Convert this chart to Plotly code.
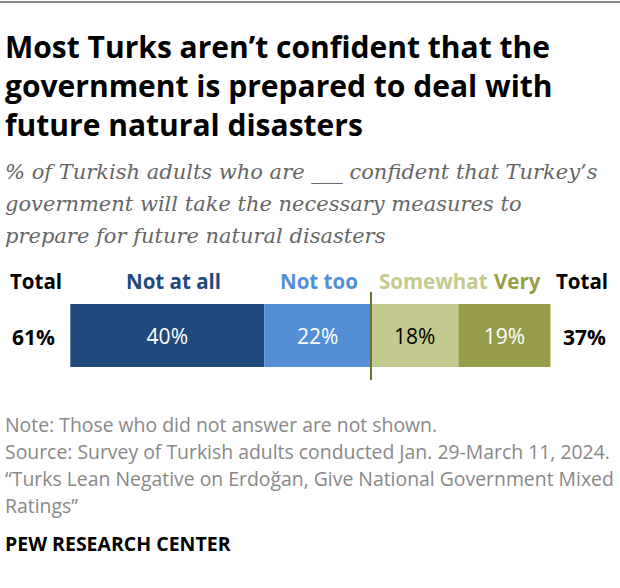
import plotly.graph_objects as go

categories = ["Not at all", "Not too", "Somewhat", "Very"]
values = [40, 22, 18, 19]
signs = [-1, -1, 1, 1]
colors = ["#214a7c", "#548fd6", "#c4ca8f", "#969c4a"]
text_colors = ["white", "white", "black", "white"]
totals = ["61%", "37%"]

W, H = 620, 588
PX_PER = 4.85
CENTER_PX = 371
xr = [-CENTER_PX / PX_PER, (W - CENTER_PX) / PX_PER]

SANS = "Open Sans, Roboto, sans-serif"
SERIF = "Georgia, DejaVu Serif, serif"

fig = go.Figure()

neg_vals = [v for v, s in zip(values, signs) if s < 0]
pos_vals = [v for v, s in zip(values, signs) if s > 0]
b_neg = []
acc = 0
for v in reversed(neg_vals):
    acc -= v
    b_neg.insert(0, acc)
b_pos = []
acc = 0
for v in pos_vals:
    b_pos.append(acc)
    acc += v
bases = b_neg + b_pos

BAR_Y = 335.5
for cat, v, b, c, tc in zip(categories, values, bases, colors, text_colors):
    fig.add_trace(go.Bar(
        x=[v], y=[BAR_Y], base=[b], orientation="h", width=63,
        marker=dict(color=c, line=dict(width=0)),
        text=[f"{v}%"], textposition="inside", insidetextanchor="middle",
        textfont=dict(color=tc, size=21, family=SANS),
        name=cat, showlegend=False, hoverinfo="skip",
    ))

fig.update_layout(
    width=W, height=H, margin=dict(l=0, r=0, t=0, b=0),
    paper_bgcolor="white", plot_bgcolor="white",
    barmode="overlay", uniformtext=dict(minsize=21, mode="show"),
    xaxis=dict(range=xr, visible=False, fixedrange=True),
    yaxis=dict(range=[H, 0], visible=False, fixedrange=True),
)

# center line
fig.add_shape(type="line", x0=0, x1=0, y0=292, y1=380, xref="x", yref="y",
              line=dict(color="#6e7032", width=2))
# top rule
fig.add_shape(type="line", x0=0, x1=1, y0=2, y1=2, xref="paper", yref="y",
              line=dict(color="#888888", width=2))

def ann(text, xpx, ypx, size, color="black", family=SANS, anchor="left"):
    fig.add_annotation(text=text, x=xpx / W, y=ypx, xref="paper", yref="y",
                       xanchor=anchor, yanchor="middle", showarrow=False,
                       font=dict(size=size, color=color, family=family), align="left")

# title
for i, line in enumerate(["Most Turks aren’t confident that the",
                          "government is prepared to deal with",
                          "future natural disasters"]):
    ann(f"<b>{line}</b>", 3, 46 + i * 39, 30)

# subtitle
for i, line in enumerate(["% of Turkish adults who are ___ confident that Turkey’s",
                          "government will take the necessary measures to",
                          "prepare for future natural disasters"]):
    ann(f"<i>{line}</i>", 3, 172 + i * 32, 21, color="#666666", family=SERIF)

# legend labels
ann("<b>Total</b>", 36, 280.5, 20.5, anchor="center")
ann("<b>Total</b>", 582, 280.5, 20.5, anchor="center")
label_centers = [173, 319, 433, 517]
for cat, cx, lc in zip(categories, label_centers, colors):
    ann(f"<b>{cat}</b>", cx, 280.5, 20.5, color=lc, anchor="center")

ann(f"<b>{totals[0]}</b>", 33.5, 337, 21, anchor="center")
ann(f"<b>{totals[1]}</b>", 584, 337, 21, anchor="center")

# notes
notes = ["Note: Those who did not answer are not shown.",
         "Source: Survey of Turkish adults conducted Jan. 29-March 11, 2024.",
         "“Turks Lean Negative on Erdoğan, Give National Government Mixed",
         "Ratings”"]
for i, line in enumerate(notes):
    ann(line, 3, 424.5 + i * 27, 19.4, color="#888888")

ann("<b>PEW RESEARCH CENTER</b>", 3, 543, 19.5)

fig.write_html("out.html", config={"displayModeBar": False},
               post_script="document.body.style.margin='0';document.body.style.overflow='hidden';")
